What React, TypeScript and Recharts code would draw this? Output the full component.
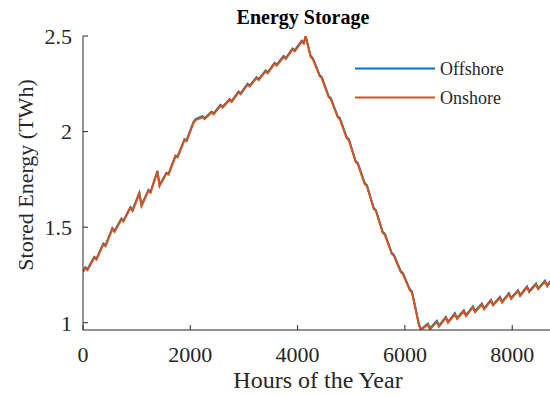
import React from 'react';
import { LineChart, Line, XAxis, YAxis, Legend } from 'recharts';

// hours sampled around the weekly pattern (peak / dip of each week)
const hours = [
  0, 43, 83, 211, 251, 379, 419, 547, 587, 715, 755, 883, 923, 1051, 1091, 1219, 1259,
  1387, 1427, 1555, 1595, 1723, 1763, 1891, 1931, 2059, 2099, 2227, 2267, 2395, 2435,
  2563, 2603, 2731, 2771, 2899, 2939, 3067, 3107, 3235, 3275, 3403, 3443, 3571, 3611,
  3739, 3779, 3907, 3947, 4075, 4115, 4150, 4243, 4283, 4411, 4451, 4579, 4619, 4747,
  4787, 4915, 4955, 5083, 5123, 5251, 5291, 5419, 5459, 5587, 5627, 5755, 5795, 5923,
  5963, 6091, 6131, 6259, 6299, 6427, 6467, 6595, 6635, 6763, 6803, 6931, 6971, 7099,
  7139, 7267, 7307, 7435, 7475, 7603, 7643, 7771, 7811, 7939, 7979, 8107, 8147, 8275,
  8315, 8443, 8483, 8611, 8651, 8760,
];

const offshore = [
  1.27, 1.29, 1.28, 1.345, 1.335, 1.415, 1.405, 1.495, 1.48, 1.545, 1.535, 1.605, 1.59,
  1.68, 1.615, 1.695, 1.685, 1.795, 1.72, 1.785, 1.78, 1.875, 1.87, 1.96, 1.955, 2.05,
  2.065, 2.08, 2.07, 2.105, 2.095, 2.14, 2.13, 2.17, 2.16, 2.21, 2.2, 2.25, 2.24, 2.285,
  2.275, 2.32, 2.31, 2.36, 2.35, 2.395, 2.385, 2.435, 2.425, 2.475, 2.465, 2.5, 2.395,
  2.385, 2.295, 2.285, 2.185, 2.175, 2.08, 2.07, 1.97, 1.96, 1.845, 1.835, 1.73, 1.72,
  1.6, 1.59, 1.475, 1.465, 1.365, 1.355, 1.27, 1.26, 1.175, 1.165, 0.995, 0.965, 0.995,
  0.97, 1.01, 0.985, 1.03, 1.005, 1.05, 1.025, 1.065, 1.04, 1.085, 1.06, 1.1, 1.075,
  1.12, 1.095, 1.135, 1.11, 1.155, 1.13, 1.17, 1.145, 1.19, 1.165, 1.205, 1.18, 1.22,
  1.195, 1.235,
];

const onshore = [
  1.265, 1.285, 1.275, 1.34, 1.33, 1.41, 1.4, 1.49, 1.475, 1.54, 1.53, 1.6, 1.585,
  1.675, 1.61, 1.69, 1.68, 1.79, 1.715, 1.78, 1.775, 1.87, 1.865, 1.955, 1.95, 2.045,
  2.06, 2.075, 2.065, 2.1, 2.09, 2.135, 2.125, 2.165, 2.155, 2.205, 2.195, 2.245, 2.235,
  2.28, 2.27, 2.315, 2.305, 2.355, 2.345, 2.39, 2.38, 2.43, 2.42, 2.47, 2.46, 2.5, 2.39,
  2.38, 2.29, 2.28, 2.18, 2.17, 2.075, 2.065, 1.965, 1.955, 1.84, 1.83, 1.725, 1.715,
  1.595, 1.585, 1.47, 1.46, 1.36, 1.35, 1.265, 1.255, 1.17, 1.16, 0.99, 0.962, 0.99,
  0.965, 1.005, 0.98, 1.025, 1.0, 1.045, 1.02, 1.06, 1.035, 1.08, 1.055, 1.095, 1.07,
  1.115, 1.09, 1.13, 1.105, 1.15, 1.125, 1.165, 1.14, 1.185, 1.16, 1.2, 1.175, 1.215,
  1.19, 1.23,
];

const xTicks = [0, 2000, 4000, 6000, 8000];
const yTicks = [1, 1.5, 2, 2.5];

const seriesList = [
  { key: 'offshore', name: 'Offshore', color: '#0072BD' },
  { key: 'onshore', name: 'Onshore', color: '#D95319' },
];

const data = hours.map((h, i) => ({ hour: h, offshore: offshore[i], onshore: onshore[i] }));

const FONT = '"Liberation Serif", "Times New Roman", serif';
const INK = '#262626';

function StorageLegend() {
  return (
    <svg width={190} height={64}>
      {seriesList.map((s, i) => (
        <g key={s.key}>
          <line x1={5} x2={85} y1={18.5 + i * 29} y2={18.5 + i * 29} stroke={s.color} strokeWidth={2} />
          <text x={90} y={25 + i * 29} fontFamily={FONT} fontSize={18} fill={INK}>
            {s.name}
          </text>
        </g>
      ))}
    </svg>
  );
}

export default function App() {
  return (
    <div style={{ position: 'absolute', left: 0, top: 0, width: 550, height: 396, overflow: 'hidden', background: '#fff' }}>
      <div
        style={{
          position: 'absolute', left: 0, top: 7, width: 606, textAlign: 'center',
          fontFamily: FONT, fontWeight: 'bold', fontSize: 20, lineHeight: '20px', color: '#000',
        }}
      >
        Energy Storage
      </div>
      <LineChart width={553} height={396} data={data} margin={{ top: 36, right: 0, bottom: 0, left: 0 }}>
        <XAxis
          dataKey="hour"
          type="number"
          domain={[0, 8760]}
          ticks={xTicks}
          interval={0}
          allowDataOverflow
          height={66}
          tickSize={-5}
          tickMargin={21}
          stroke={INK}
          tick={{ fill: INK, fontSize: 22, fontFamily: FONT }}
          label={{ value: 'Hours of the Year', position: 'insideBottom', offset: 8, fill: INK, fontSize: 24, fontFamily: FONT }}
        />
        <YAxis
          type="number"
          domain={[0.962, 2.5]}
          ticks={yTicks}
          interval={0}
          allowDataOverflow
          width={83}
          tickSize={-5}
          tickMargin={16}
          stroke={INK}
          tick={{ fill: INK, fontSize: 22, fontFamily: FONT }}
          label={{
            value: 'Stored Energy (TWh)', angle: -90, position: 'insideLeft', offset: 25, dy: -8,
            fill: INK, fontSize: 22, fontFamily: FONT, style: { textAnchor: 'middle' },
          }}
        />
        <Legend
          layout="vertical"
          align="center"
          verticalAlign="middle"
          content={<StorageLegend />}
          wrapperStyle={{ position: 'absolute', left: 350, top: 50, width: 190, height: 64 }}
        />
        {seriesList.map((s) => (
          <Line
            key={s.key}
            dataKey={s.key}
            name={s.name}
            type="linear"
            stroke={s.color}
            strokeWidth={2}
            dot={false}
            activeDot={false}
            isAnimationActive={false}
          />
        ))}
      </LineChart>
    </div>
  );
}
